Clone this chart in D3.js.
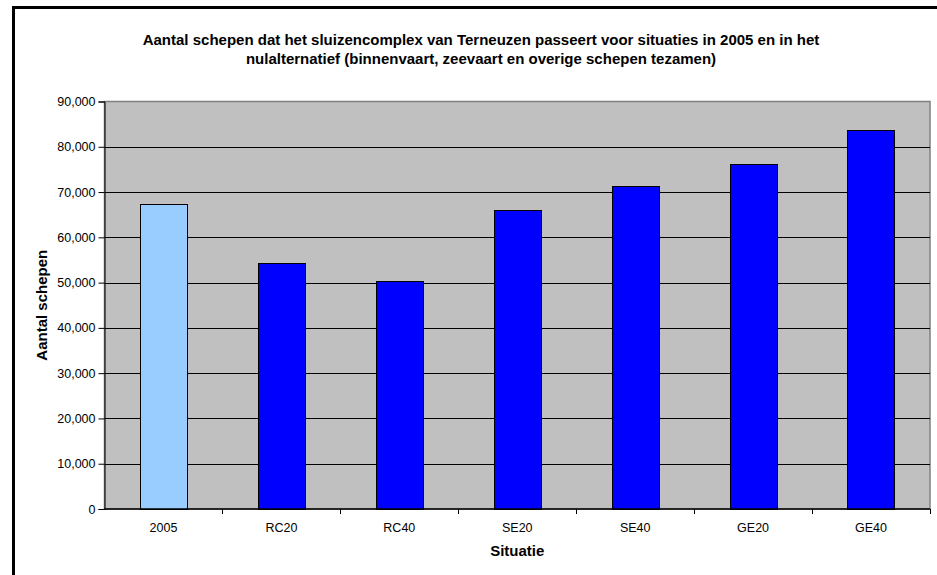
<!DOCTYPE html>
<html>
<head>
<meta charset="utf-8">
<script src="https://cdn.jsdelivr.net/npm/d3@7"></script>
<style>
  html, body { margin: 0; padding: 0; background: #ffffff; }
  svg { display: block; font-family: "Liberation Sans", Arial, sans-serif; }
</style>
</head>
<body>
<svg id="chart" width="937" height="575"></svg>
<script>
// Ship passages through the Terneuzen lock complex per scenario
const categories = ["2005", "RC20", "RC40", "SE20", "SE40", "GE20", "GE40"];
const ships = [67400, 54300, 50300, 66100, 71400, 76300, 83800];
const yTicks = [0, 10000, 20000, 30000, 40000, 50000, 60000, 70000, 80000, 90000];
const titleLines = [
  "Aantal schepen dat het sluizencomplex van Terneuzen passeert voor situaties in 2005 en in het",
  "nulalternatief (binnenvaart, zeevaart en overige schepen tezamen)"
];
const xTitle = "Situatie";
const yTitle = "Aantal schepen";

const svg = d3.select("#chart");
const W = 937, H = 575;
const plot = { left: 104.5, right: 930, top: 101.5, bottom: 509 };

// outer chart frame (extends past the canvas on the right and bottom)
svg.append("rect")
  .attr("x", 13.5).attr("y", 7.5)
  .attr("width", 936).attr("height", 580)
  .attr("fill", "#ffffff")
  .attr("stroke", "#000000").attr("stroke-width", 3);

const x = d3.scaleBand().domain(categories).range([plot.left, plot.right]).paddingInner(0.6).paddingOuter(0.3);
const xEdges = d3.scaleBand().domain(categories).range([plot.left, plot.right]);
const y = d3.scaleLinear().domain([0, 90000]).range([plot.bottom, plot.top]);

// plot background
svg.append("rect")
  .attr("x", plot.left).attr("y", plot.top)
  .attr("width", plot.right - plot.left).attr("height", plot.bottom - plot.top)
  .attr("fill", "#c0c0c0")
  .attr("stroke", "#808080").attr("stroke-width", 1.5);

// horizontal gridlines
svg.append("g").selectAll("line")
  .data(yTicks.filter(t => t > 0 && t < 90000))
  .join("line")
  .attr("x1", plot.left).attr("x2", plot.right)
  .attr("y1", d => Math.round(y(d)) + 0.5).attr("y2", d => Math.round(y(d)) + 0.5)
  .attr("stroke", "#000000").attr("stroke-width", 1);

// bars
svg.append("g").selectAll("rect")
  .data(categories.map((c, i) => ({ c, v: ships[i] })))
  .join("rect")
  .attr("x", d => Math.round(x(d.c)) + 0.5)
  .attr("y", d => Math.round(y(d.v)) + 0.5)
  .attr("width", Math.round(x.bandwidth()))
  .attr("height", d => Math.round(y(0)) - Math.round(y(d.v)))
  .attr("fill", d => d.c === "2005" ? "#99ccff" : "#0000ff")
  .attr("stroke", "#000000").attr("stroke-width", 1);

// y axis
const yAxis = d3.axisLeft(y).tickValues(yTicks).tickSize(6).tickPadding(3)
  .tickFormat(d3.format(","));
const gy = svg.append("g").attr("transform", `translate(${plot.left},0)`).call(yAxis);
gy.select(".domain").attr("stroke", "#000000");
gy.selectAll(".tick line").attr("stroke", "#000000");
gy.selectAll("text").attr("font-size", 12.5).attr("fill", "#000000")
  .attr("font-family", "'Liberation Sans', Arial, sans-serif");

// x axis with ticks at category boundaries
const gx = svg.append("g").attr("transform", `translate(0,${plot.bottom})`);
gx.append("line")
  .attr("x1", plot.left).attr("x2", plot.right)
  .attr("stroke", "#000000").attr("stroke-width", 1.5);
gx.selectAll("line.tk")
  .data(categories.slice(1).map(c => xEdges(c)).concat([plot.right]))
  .join("line").attr("class", "tk")
  .attr("x1", d => Math.round(d) + 0.5).attr("x2", d => Math.round(d) + 0.5)
  .attr("y1", 0).attr("y2", 5)
  .attr("stroke", "#000000");
gx.selectAll("text")
  .data(categories)
  .join("text")
  .attr("x", d => xEdges(d) + xEdges.bandwidth() / 2)
  .attr("y", 22.5)
  .attr("text-anchor", "middle")
  .attr("font-size", 12.5)
  .text(d => d);

// axis titles
svg.append("text")
  .attr("x", (plot.left + plot.right) / 2).attr("y", 556)
  .attr("text-anchor", "middle")
  .attr("font-size", 15).attr("font-weight", "bold")
  .text(xTitle);
svg.append("text")
  .attr("transform", `translate(46.5,${(plot.top + plot.bottom) / 2}) rotate(-90)`)
  .attr("text-anchor", "middle")
  .attr("font-size", 15).attr("font-weight", "bold")
  .text(yTitle);

// chart title
svg.append("g").selectAll("text")
  .data(titleLines)
  .join("text")
  .attr("x", 481).attr("y", (d, i) => 45 + i * 19)
  .attr("text-anchor", "middle")
  .attr("font-size", 15).attr("font-weight", "bold")
  .text(d => d);
</script>
</body>
</html>
